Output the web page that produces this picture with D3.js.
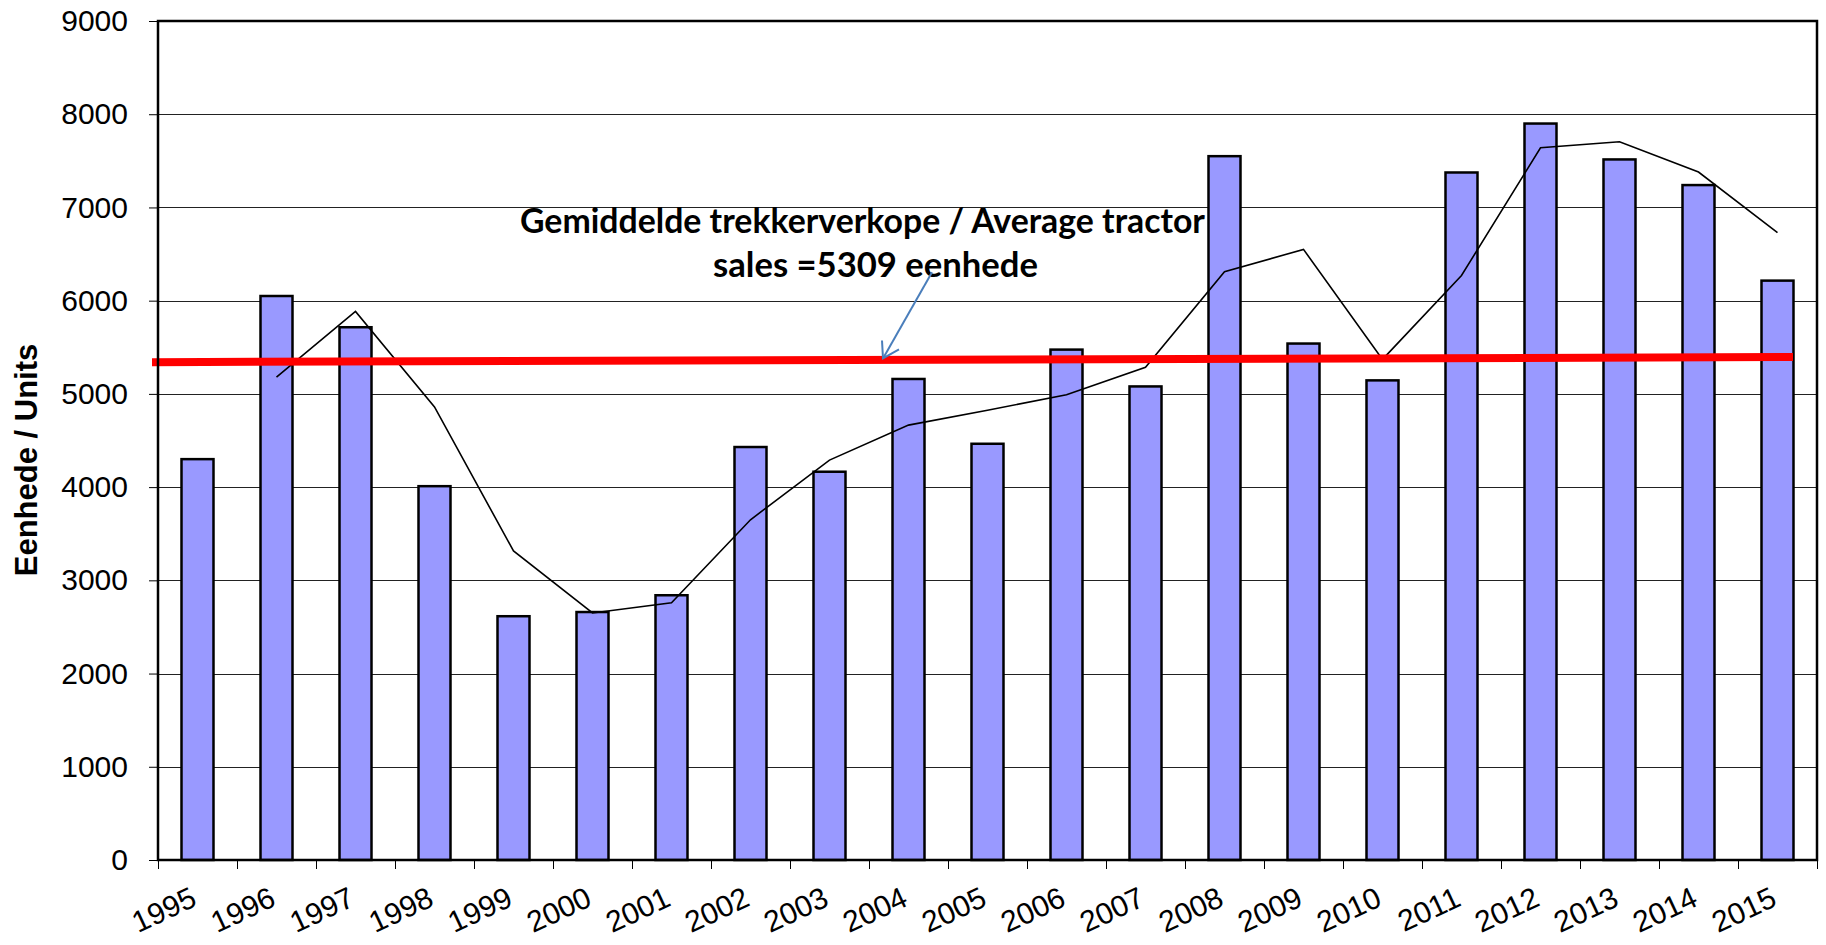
<html>
	<head>
		<script type="text/javascript" src="https://cdn.jsdelivr.net/npm/d3@7/dist/d3.min.js"></script>
		<style>
			body{
				margin:0;
				background:#fff;
			}
			#container{
				width:1826px;
				height:945px;
			}
			svg{
				width:100%;
				height:100%;
			}
			.tick-label{
				font-family:"Liberation Sans", Arial, sans-serif;
				font-size:30px;
				fill:#000;
			}
		</style>
	</head>
	<body>
		<div id="container"></div>
		<script type="text/javascript">

			// jaarlikse verkope
			var years = ["1995","1996","1997","1998","1999","2000","2001","2002","2003","2004","2005",
				"2006","2007","2008","2009","2010","2011","2012","2013","2014","2015"];
			var sales = [4300, 6050, 5715, 4010, 2615, 2660, 2840, 4430, 4165, 5160, 4465,
				5475, 5080, 7550, 5540, 5145, 7375, 7900, 7515, 7240, 6215];

			// bewegende gemiddelde (vanaf 1996)
			var trendYears = years.slice(1);
			var trend = [5180, 5885, 4860, 3315, 2650, 2760, 3650, 4290, 4665, 4825,
				4990, 5285, 6310, 6550, 5370, 6270, 7640, 7705, 7380, 6730];

			// rooi lyn: begin- en eindwaarde
			var avgLine = [5340, 5395];

			var yTicks = [0, 1000, 2000, 3000, 4000, 5000, 6000, 7000, 8000, 9000];
			var noteLines = ["Gemiddelde trekkerverkope / Average tractor", "sales =5309 eenhede"];
			var yTitle = "Eenhede / Units";

			var svg = d3.select("#container").append("svg");

			var pLeft = 158, pRight = 1817, pTop = 21, pBottom = 860;

			var x = d3.scaleBand()
				.domain(years)
				.range([pLeft, pRight])
				.padding(0);

			var y = d3.scaleLinear()
				.domain([0, 9000])
				.range([pBottom, pTop]);

			var barW = x.bandwidth() * 0.405;
			function cx(d){ return x(d) + x.bandwidth()/2; }

			// gridlines
			svg.append("g")
				.selectAll("line").data(yTicks.slice(1, -1)).enter().append("line")
				.attr("x1", pLeft).attr("x2", pRight)
				.attr("y1", function(d){ return Math.round(y(d)) + 0.5; })
				.attr("y2", function(d){ return Math.round(y(d)) + 0.5; })
				.attr("stroke", "#222")
				.attr("stroke-width", 1);

			// y axis
			var yAxis = d3.axisLeft(y)
				.tickValues(yTicks)
				.tickFormat(d3.format("d"))
				.tickSize(9)
				.tickPadding(21);
			var gy = svg.append("g")
				.attr("transform", "translate(" + pLeft + ",0)")
				.call(yAxis);
			gy.select(".domain").remove();
			gy.selectAll(".tick line").attr("stroke", "#000");
			gy.attr("font-size", null).attr("font-family", null);
			gy.selectAll(".tick text").attr("class", "tick-label");

			// x axis: ticks op kategoriegrense
			var bounds = years.map(function(d){ return x(d); }).concat([pRight]);
			svg.append("g")
				.selectAll("line").data(bounds).enter().append("line")
				.attr("x1", function(d){ return Math.round(d) + 0.5; })
				.attr("x2", function(d){ return Math.round(d) + 0.5; })
				.attr("y1", pBottom).attr("y2", pBottom + 9)
				.attr("stroke", "#000");

			svg.append("g")
				.selectAll("text").data(years).enter().append("text")
				.attr("class", "tick-label")
				.attr("text-anchor", "end")
				.attr("transform", function(d){
					return "translate(" + (cx(d) + 1) + "," + (pBottom + 45) + ") rotate(-25)";
				})
				.text(function(d){ return d; });

			// bars
			svg.append("g")
				.selectAll("rect").data(years).enter().append("rect")
				.attr("x", function(d){ return cx(d) - barW/2; })
				.attr("y", function(d, i){ return y(sales[i]); })
				.attr("width", barW)
				.attr("height", function(d, i){ return y(0) - y(sales[i]); })
				.attr("fill", "#9999ff")
				.attr("stroke", "#000")
				.attr("stroke-width", 2.5);

			// trend line
			var line = d3.line()
				.x(function(d){ return cx(d); })
				.y(function(d, i){ return y(trend[i]); });

			svg.append("path")
				.datum(trendYears)
				.attr("d", line)
				.attr("fill", "none")
				.attr("stroke", "#000")
				.attr("stroke-width", 1.6);

			// average line
			svg.append("line")
				.attr("x1", pLeft - 6).attr("x2", pRight - 24)
				.attr("y1", y(avgLine[0])).attr("y2", y(avgLine[1]))
				.attr("stroke", "#ff0000")
				.attr("stroke-width", 8);

			// plot frame
			svg.append("rect")
				.attr("x", pLeft).attr("y", pTop)
				.attr("width", pRight - pLeft).attr("height", pBottom - pTop)
				.attr("fill", "none")
				.attr("stroke", "#000")
				.attr("stroke-width", 2.5);

			// y title
			svg.append("text")
				.attr("transform", "translate(37," + 460 + ") rotate(-90)")
				.attr("text-anchor", "middle")
				.attr("font-family", "'Liberation Sans', Arial, sans-serif")
				.attr("font-weight", "bold")
				.attr("font-size", 31)
				.text(yTitle);

			// annotation
			var noteX = [[520, 685], [713, 325]];
			var noteY = [6730, 6250];
			svg.append("g")
				.selectAll("text").data(noteLines).enter().append("text")
				.attr("x", function(d, i){ return noteX[i][0]; })
				.attr("y", function(d, i){ return y(noteY[i]); })
				.attr("textLength", function(d, i){ return noteX[i][1]; })
				.attr("lengthAdjust", "spacingAndGlyphs")
				.attr("font-family", "Lato, 'Open Sans', sans-serif")
				.attr("font-weight", "bold")
				.attr("font-size", 34)
				.attr("fill", "#000")
				.text(function(d){ return d; });

			// arrow to the red line
			var tip = [x("2004") + 14, y(5380)];
			var tail = [x("2004") + 63, y(6305)];
			svg.append("line")
				.attr("x1", tail[0]).attr("y1", tail[1])
				.attr("x2", tip[0]).attr("y2", tip[1])
				.attr("stroke", "#4a7ebb").attr("stroke-width", 2);
			svg.append("path")
				.attr("d", "M" + (tip[0] - 1) + "," + (tip[1] - 18) + "L" + tip[0] + "," + tip[1] + "L" + (tip[0] + 16) + "," + (tip[1] - 9))
				.attr("fill", "none")
				.attr("stroke", "#4a7ebb").attr("stroke-width", 2);

		</script>
	</body>
</html>
